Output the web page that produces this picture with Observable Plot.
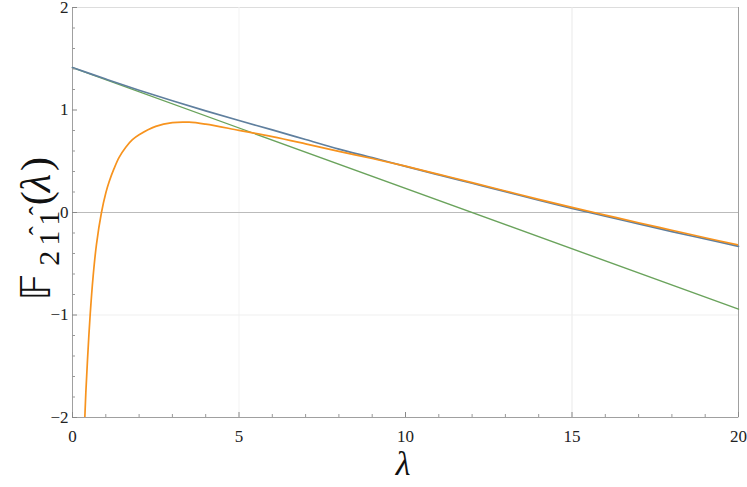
<!DOCTYPE html>
<html>
<head>
<meta charset="utf-8">
<script src="https://cdn.jsdelivr.net/npm/d3@7"></script>
<script src="https://cdn.jsdelivr.net/npm/@observablehq/plot@0.6"></script>
<style>
  html, body { margin: 0; padding: 0; background: #fff; }
  #chart svg { display: block; }
</style>
</head>
<body>
<div id="chart"></div>
<script>
// ---- data ----
const blueX = [0,1,2,3,4,5,6,7,8,9,10,11,12,13,14,15,16,17,18,19,20];
const blueY = [1.414,1.302,1.193,1.090,0.992,0.897,0.806,0.712,0.618,0.535,0.450,0.367,0.285,0.203,0.120,0.040,-0.036,-0.111,-0.186,-0.258,-0.330];

const orangeX = [0.35,0.37,0.40,0.45,0.53,0.62,0.72,0.87,1.0,1.1,1.25,1.4,1.6,1.8,2.0,2.5,3.0,3.5,4.0,5.0,6.0,7.0,8.0,9.0,10,11,12,13,14,15,16,17,18,19,20];
const orangeY = [-2.18,-2.0,-1.76,-1.44,-1.0,-0.62,-0.31,0.0,0.19,0.30,0.43,0.538,0.637,0.71,0.758,0.84,0.877,0.881,0.862,0.802,0.741,0.670,0.596,0.527,0.452,0.372,0.292,0.210,0.128,0.050,-0.025,-0.100,-0.173,-0.246,-0.318];

const greenX = [0, 20];
const greenY = [1.414, -0.943];

const xMajor = [0,5,10,15,20];
const xMinor = [1,2,3,4,6,7,8,9,11,12,13,14,16,17,18,19];
const yMajor = [-2,-1,0,1,2];
const yMinor = [-1.8,-1.6,-1.4,-1.2,-0.8,-0.6,-0.4,-0.2,0.2,0.4,0.6,0.8,1.2,1.4,1.6,1.8];

const xTitle = "λ";
const yTitleMain = "𝔽";
const yTitleSub = ["2", "1", "1"];
const yTitleHat = [false, true, true];
const yTitleArg = ["(", "λ", ")"];

// ---- build tables ----
const blue = blueX.map((x, i) => ({x, y: blueY[i]}));
const orange = orangeX.map((x, i) => ({x, y: orangeY[i]}));
const green = greenX.map((x, i) => ({x, y: greenY[i]}));

const serif = "'Liberation Serif', 'DejaVu Serif', serif";
const fmt = d => (d < 0 ? "\u2212" + (-d) : String(d));

const plot = Plot.plot({
  width: 747,
  height: 487,
  marginLeft: 72,
  marginRight: 9,
  marginTop: 7,
  marginBottom: 70,
  style: {background: "#fff", fontFamily: serif},
  x: {domain: [0, 20]},
  y: {domain: [-2, 2]},
  marks: [
    Plot.frame({stroke: "#dddddd"}),
    Plot.ruleX([5], {stroke: "#f3f3f3"}),
    Plot.ruleX([15], {stroke: "#e9e9e9"}),
    Plot.ruleY([-1], {stroke: "#efefef"}),
    Plot.ruleY([0], {stroke: "#bbbbbb", strokeWidth: 1.2}),
    Plot.ruleX([0], {stroke: "#a0a0a0"}),
    Plot.ruleX([20], {stroke: "#a0a0a0"}),
    Plot.ruleY([-2], {stroke: "#a0a0a0"}),
    Plot.line(green, {x: "x", y: "y", stroke: "#6aa35c", strokeWidth: 1.4}),
    Plot.line(blue, {x: "x", y: "y", stroke: "#5f7f9e", strokeWidth: 1.7, curve: "catmull-rom"}),
    Plot.line(orange, {x: "x", y: "y", stroke: "#f7931e", strokeWidth: 1.7, curve: "catmull-rom", clip: true}),
    // ticks (inward)
    Plot.axisX(xMajor, {tickSize: -5, fill: "none", stroke: "#888", label: null}),
    Plot.axisX(xMinor, {tickSize: -3, fill: "none", stroke: "#999", label: null}),
    Plot.axisY(yMajor, {tickSize: -5, fill: "none", stroke: "#888", label: null}),
    Plot.axisY(yMinor, {tickSize: -3, fill: "none", stroke: "#999", label: null}),
    // tick labels
    Plot.axisX(xMajor, {tickSize: 0, tickPadding: 12, fontSize: 17, fill: "#222", label: null, fontFamily: serif, tickFormat: fmt}),
    Plot.axisY(yMajor, {tickSize: 0, tickPadding: 4, fontSize: 17, fill: "#222", label: null, fontFamily: serif, tickFormat: fmt})
  ]
});

document.getElementById("chart").appendChild(plot);

// axis titles
const svg = d3.select(plot);
svg.append("text")
  .attr("x", 403).attr("y", 475)
  .attr("text-anchor", "middle")
  .attr("font-family", serif)
  .attr("font-style", "italic")
  .attr("font-size", 34)
  .attr("fill", "#111")
  .text(xTitle);

// rotated y title, built piece by piece
const g = svg.append("g").attr("fill", "#111");
const pieces = [];
pieces.push({t: yTitleMain, size: 40, fam: "'DejaVu Sans', 'DejaVu Serif', serif", dy: 0, hat: false, gap: 2});
yTitleSub.forEach((t, i) => pieces.push({t, size: 30, fam: serif, dy: 9, hat: yTitleHat[i], gap: 5}));
yTitleArg.forEach((t, i) => pieces.push({t, size: 42, fam: serif, dy: 0, hat: false, italic: t === "λ", gap: 1}));

let cx = 0;
const placed = [];
pieces.forEach(p => {
  const el = g.append("text")
    .attr("x", cx).attr("y", p.dy)
    .attr("font-family", p.fam)
    .attr("font-size", p.size)
    .attr("font-style", p.italic ? "italic" : null)
    .text(p.t);
  const w = el.node().getComputedTextLength();
  placed.push({p, x: cx, w});
  cx += w + p.gap;
});
placed.forEach(({p, x, w}) => {
  if (p.hat) {
    g.append("text")
      .attr("x", x + w / 2).attr("y", p.dy - 11)
      .attr("text-anchor", "middle")
      .attr("font-family", serif)
      .attr("font-size", p.size * 0.9)
      .text("\u02C6");
  }
});
const total = cx;
g.attr("transform", `translate(50,${218 + total / 2}) rotate(-90)`);
</script>
</body>
</html>
